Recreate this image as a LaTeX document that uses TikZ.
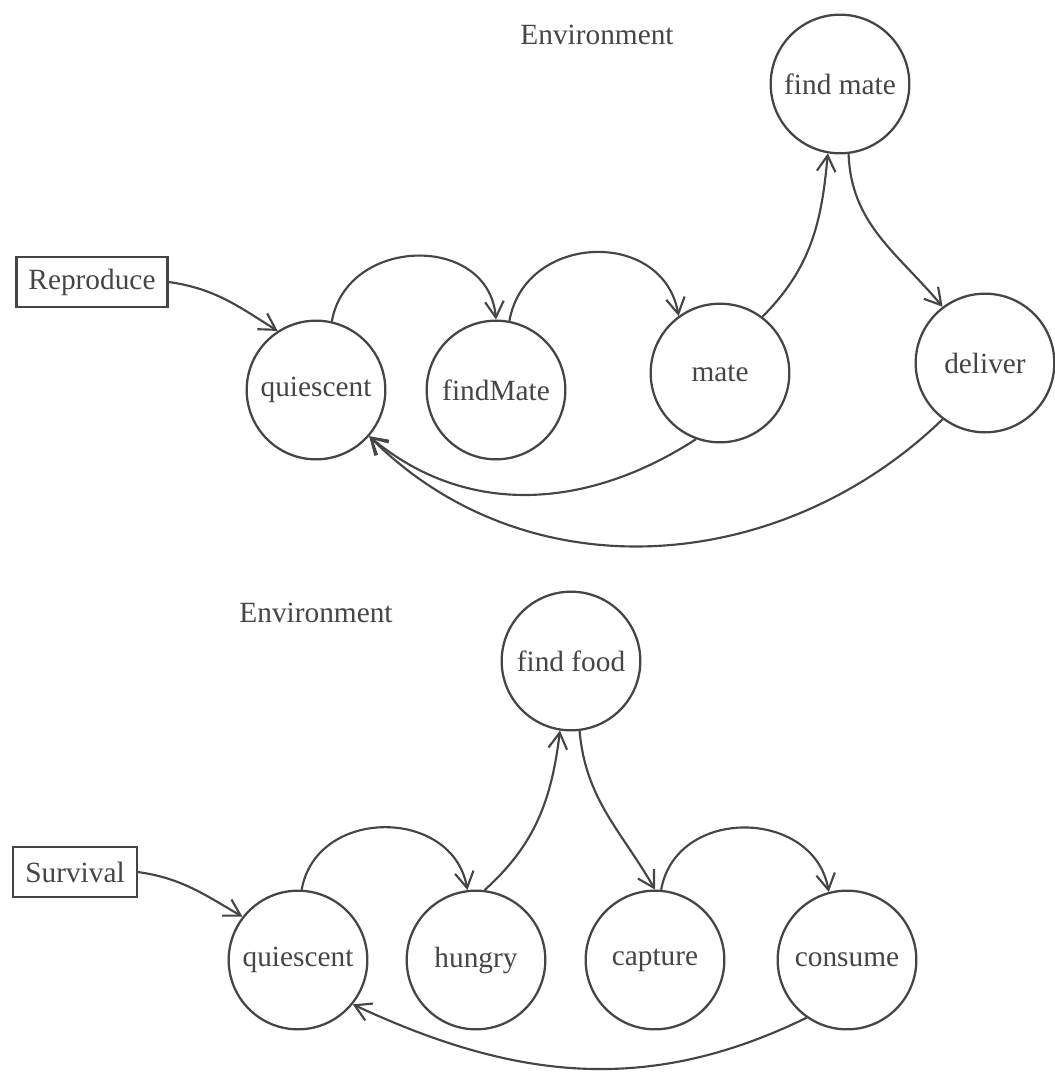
\documentclass[tikz,border=0pt]{standalone}
\usepackage{fontspec}
\setmainfont{Liberation Serif}
\usetikzlibrary{arrows.meta}
\definecolor{ink}{gray}{0.27}
\begin{document}
\begin{tikzpicture}[x=0.75pt,y=0.75pt,
  txt/.style={text=ink,font=\fontsize{22}{24}\selectfont},
  state/.style={txt,circle,draw=ink,line width=1.7pt,minimum size=104pt,inner sep=0pt},
  box/.style={txt,rectangle,draw=ink,line width=1.7pt,minimum height=37.5pt,inner xsep=9pt},
  arr/.style={draw=ink,line width=1.6pt,-{Straight Barb[length=12pt,width=14pt,line width=1.6pt]}}
]
\useasboundingbox (0,0) rectangle (1055,-1073);

% top machine
\node[txt] (env1) at (597,-35) {Environment};
\node[box] (rep) at (92,-282) {Reproduce};
\node[state] (q1) at (316,-390) {quiescent};
\node[state] (fm) at (496,-390) {findMate};
\node[state] (mt) at (720,-373) {mate};
\node[state] (dl) at (985,-363) {deliver};
\node[state] (fmate) at (840,-84) {find mate};

\draw[arr] (rep.east) to[out=-8,in=148] (q1.123);
\draw[arr] (q1.77) to[out=80,in=95,looseness=1.35] (fm.90);
\draw[arr] (fm.79) to[out=80,in=100,looseness=1.35] (mt.126);
\draw[arr] (mt.53) to[out=45,in=-95] (fmate.-100);
\draw[arr] (fmate.-83) to[out=-88,in=130] (dl.127);
\draw[arr] (mt.-110) to[out=-147,in=-40] (q1.-41);
\draw[arr] (dl.-127) to[out=-136,in=-45] (q1.-41);

% bottom machine
\node[txt] (env2) at (316,-613) {Environment};
\node[box] (surv) at (75,-872) {Survival};
\node[state] (q2) at (298,-960) {quiescent};
\node[state] (hg) at (476,-960) {hungry};
\node[state] (cp) at (655,-960) {capture};
\node[state] (cs) at (847,-960) {consume};
\node[state] (ff) at (571,-661) {find food};

\draw[arr] (surv.east) to[out=-8,in=150] (q2.142);
\draw[arr] (q2.87) to[out=80,in=100,looseness=1.3] (hg.97);
\draw[arr] (hg.83) to[out=42,in=-97] (ff.-99);
\draw[arr] (ff.-83) to[out=-85,in=120] (cp.90);
\draw[arr] (cp.85) to[out=80,in=100,looseness=1.3] (cs.105);
\draw[arr] (cs.-125) to[out=-154,in=-25] (q2.-39);
\end{tikzpicture}
\end{document}
